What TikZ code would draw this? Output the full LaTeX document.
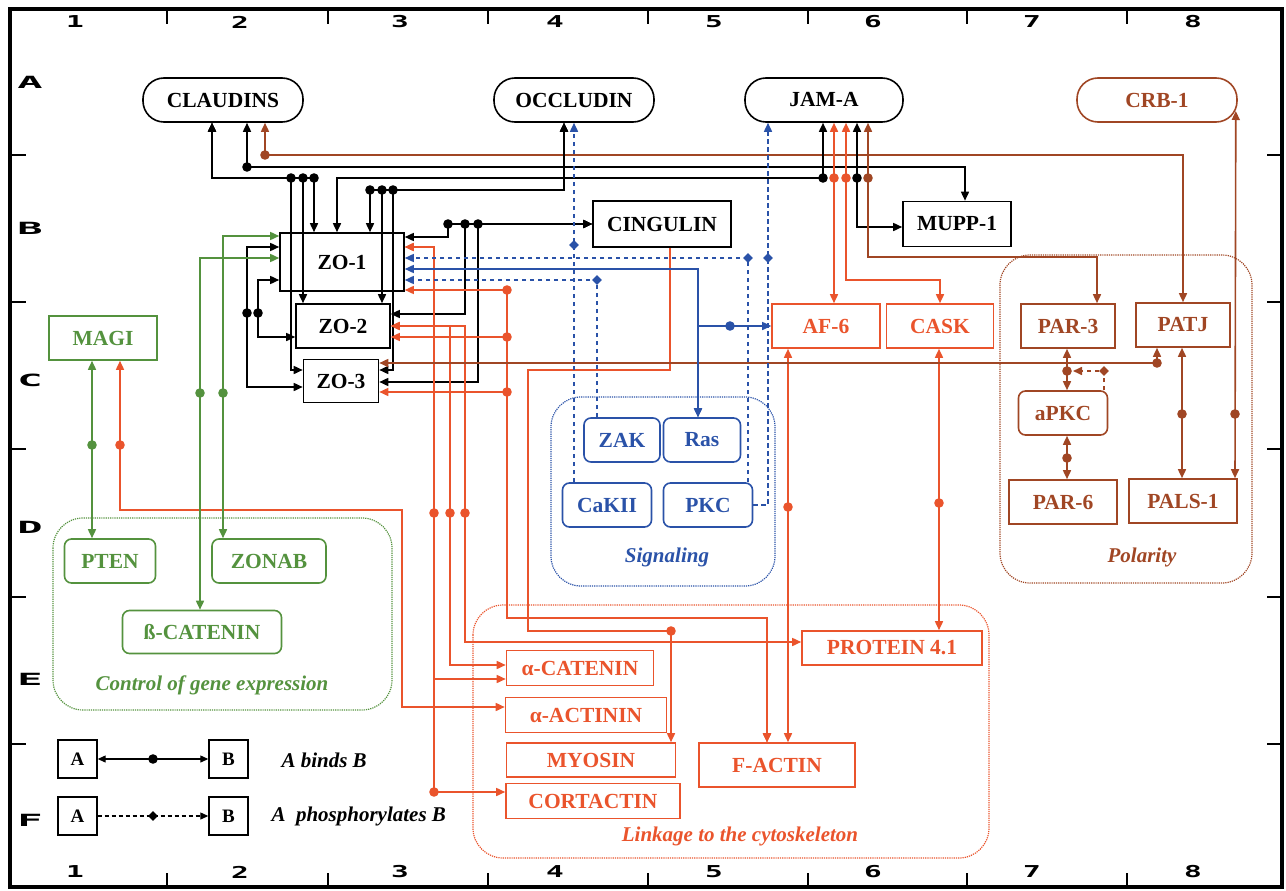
\documentclass[tikz,border=0pt]{standalone}
\usepackage{fontspec}
\usepackage{graphicx}
\setmainfont{Liberation Serif}
\newfontfamily\axisfont{DejaVu Sans Mono}
\usetikzlibrary{arrows.meta}
\definecolor{cred}{RGB}{234,84,44}
\definecolor{cbrown}{RGB}{160,70,36}
\definecolor{cgreen}{RGB}{84,146,62}
\definecolor{cblue}{RGB}{42,82,168}
\newcommand{\dotat}[2][black]{\fill[#1] (#2) circle (4.8pt);}
\newcommand{\diaat}[2][cblue]{\fill[#1] (#2) ++(0pt,4.8pt) -- ++(4.8pt,-4.8pt) -- ++(-4.8pt,-4.8pt) -- ++(-4.8pt,4.8pt) -- cycle;}
\tikzset{
  nbox/.style={draw, line width=1.6pt, inner sep=0pt, font=\fontsize{21.5}{22}\selectfont\bfseries},
  pill/.style={nbox, rounded corners=21pt},
  rbox/.style={nbox, rounded corners=7pt},
  sz/.style 2 args={minimum width=#1pt, minimum height=#2pt},
  grp/.style={line width=1.2pt, densely dotted, rounded corners=30pt},
  glabel/.style={font=\fontsize{21}{22}\selectfont\bfseries\itshape},
  con/.style={line width=1.6pt, {Triangle[length=9pt,width=8pt]}-{Triangle[length=9pt,width=8pt]}},
  con1/.style={line width=1.6pt, -{Triangle[length=9pt,width=8pt]}},
  phos/.style={line width=1.6pt, dash pattern=on 4.5pt off 3.5pt, -{Triangle[length=9pt,width=8pt]}},
  axis/.style={font=\axisfont\bfseries\fontsize{21}{21}\selectfont, inner sep=0pt},
}
\begin{document}
\begin{tikzpicture}[x=1pt,y=-1pt]
\useasboundingbox (0,0) rectangle (1286,891);
% frame
\draw[line width=3.5pt] (10,9) rectangle (1282,887);
\foreach \x in {167,328,488,648,808,967,1127} {
  \draw[line width=2.5pt] (\x,9) -- (\x,24);
  \draw[line width=2.5pt] (\x,873) -- (\x,887);
}
\foreach \y in {155,302,449,597,744} {
  \draw[line width=2.5pt] (10,\y) -- (26,\y);
  \draw[line width=2.5pt] (1267,\y) -- (1282,\y);
}
\foreach \n/\x in {1/75,2/240,3/400,4/555,5/714,6/873,7/1032,8/1193} {
  \node[axis] (top\n) at (\x,22) {\scalebox{1.4}[0.78]{\n}};
  \node[axis] (bot\n) at (\x,872) {\scalebox{1.4}[0.78]{\n}};
}
\foreach \l/\y in {A/82,B/228,C/380,D/527,E/679,F/820} {
  \node[axis] (row\l) at (30,\y) {\scalebox{2.0}[0.8]{\l}};
}
% groups
\draw[grp,cgreen] (53,518) rectangle (392,710);
\draw[grp,cblue] (551,397) rectangle (775,586);
\draw[grp,cbrown] (1000,255) rectangle (1252,583);
\draw[grp,cred] (473,605) rectangle (989,858);
\node[glabel,cgreen] (lgene) at (212,685) {Control of gene expression};
\node[glabel,cblue] (lsig) at (667,557) {Signaling};
\node[glabel,cbrown] (lpol) at (1142,557) {Polarity};
\node[glabel,cred] (llink) at (740,836) {Linkage to the cytoskeleton};
% nodes
\node[pill,sz={160}{44}] (cla) at (223,100) {CLAUDINS};
\node[pill,sz={160}{44}] (occ) at (574,100) {OCCLUDIN};
\node[pill,sz={158}{44}] (jam) at (824,100) {JAM-A};
\node[pill,sz={160}{44},cbrown] (crb) at (1157,100) {CRB-1};
\node[nbox,sz={138}{46}] (cing) at (662,224) {CINGULIN};
\node[nbox,sz={108}{45}] (mupp) at (957,224) {MUPP-1};
\node[nbox,sz={124}{58}] (zo1) at (342,262) {ZO-1};
\node[nbox,sz={94}{44}] (zo2) at (343,326) {ZO-2};
\node[nbox,sz={75}{43}] (zo3) at (341,381) {ZO-3};
\node[nbox,sz={108}{44},cgreen] (magi) at (103,338) {MAGI};
\node[rbox,sz={91}{44},cgreen] (pten) at (110,561) {PTEN};
\node[rbox,sz={114}{44},cgreen] (zonab) at (269,561) {ZONAB};
\node[rbox,sz={159}{43},cgreen] (bcat) at (202,632) {ß-CATENIN};
\node[rbox,sz={76}{44},cblue] (zak) at (622,440) {ZAK};
\node[rbox,sz={77}{44},cblue] (ras) at (702,440) {Ras};
\node[rbox,sz={89}{44},cblue] (cakii) at (607,505) {CaKII};
\node[rbox,sz={89}{44},cblue] (pkc) at (708,505) {PKC};
\node[nbox,sz={108}{44},cred] (af6) at (826,326) {AF-6};
\node[nbox,sz={107}{44},cred] (cask) at (940,326) {CASK};
\node[nbox,sz={94}{44},cbrown] (par3) at (1068,326) {PAR-3};
\node[nbox,sz={94}{44},cbrown] (patj) at (1183,325) {PATJ};
\node[rbox,sz={89}{44},cbrown] (apkc) at (1063,413) {aPKC};
\node[nbox,sz={108}{44},cbrown] (par6) at (1063,502) {PAR-6};
\node[nbox,sz={108}{44},cbrown] (pals) at (1183,501) {PALS-1};
\node[nbox,sz={180}{34},cred] (p41) at (892,648) {PROTEIN 4.1};
\node[nbox,sz={147}{35},cred] (acat) at (580,668) {α-CATENIN};
\node[nbox,sz={161}{35},cred] (aact) at (586,715) {α-ACTININ};
\node[nbox,sz={169}{34},cred] (myo) at (591,760) {MYOSIN};
\node[nbox,sz={174}{35},cred] (cort) at (593,801) {CORTACTIN};
\node[nbox,sz={156}{44},cred] (fact) at (777,765) {F-ACTIN};
% ---------- black bindings
\draw[con] (212,0 |- cla.south) -- (212,178) -- (291,178) -- (291,370) -- (zo3.west |- 0,370);
\draw[con] (212,0 |- cla.south) -- (212,178) -- (303,178) -- (303,0 |- zo2.north);
\draw[con] (212,0 |- cla.south) -- (212,178) -- (314,178) -- (314,0 |- zo1.north);
\draw[con] (247,0 |- cla.south) -- (247,167) -- (965,167) -- (965,0 |- mupp.north);
\draw[con,cbrown] (265,0 |- cla.south) -- (265,155) -- (1183,155) -- (1183,0 |- patj.north);
\draw[con] (823,0 |- jam.south) -- (823,178) -- (337,178) -- (337,0 |- zo1.north);
\draw[con,cred] (834,0 |- jam.south) -- (834,0 |- af6.north);
\draw[con,cred] (846,0 |- jam.south) -- (846,280) -- (940,280) -- (940,0 |- cask.north);
\draw[con] (857,0 |- jam.south) -- (857,227) -- (mupp.west |- 0,227);
\draw[con,cbrown] (868,0 |- jam.south) -- (868,257) -- (1097,257) -- (1097,0 |- par3.north);
\draw[con] (564,0 |- occ.south) -- (564,190) -- (370,190) -- (370,0 |- zo1.north);
\draw[con] (564,0 |- occ.south) -- (564,190) -- (382,190) -- (382,0 |- zo2.north);
\draw[con] (564,0 |- occ.south) -- (564,190) -- (393,190) -- (393,370) -- (zo3.east |- 0,370);
\draw[con] (cing.west) -- (448,224) -- (448,237) -- (zo1.east |- 0,237);
\draw[con] (cing.west) -- (465,224) -- (465,314) -- (zo2.east |- 0,314);
\draw[con] (cing.west) -- (478,224) -- (478,382) -- (zo3.east |- 0,382);
\draw[con] (zo1.west |- 0,247) -- (247,247) -- (247,387) -- (zo3.west |- 0,387);
\draw[con] (zo1.west |- 0,280) -- (258,280) -- (258,337) -- (zo2.west |- 0,337);
% ---------- red bindings
\draw[con,cred] (zo1.east |- 0,247) -- (434,247) -- (434,679) -- (acat.west |- 0,679);
\draw[con,cred] (zo1.east |- 0,247) -- (434,247) -- (434,792) -- (cort.west |- 0,792);
\draw[con,cred] (zo2.east |- 0,326) -- (450,326) -- (450,665) -- (acat.west |- 0,665);
\draw[con,cred] (zo2.east |- 0,326) -- (465,326) -- (465,642) -- (p41.west |- 0,642);
\draw[con,cred] (zo1.east |- 0,290) -- (507,290) -- (507,618) -- (767,618) -- (767,0 |- fact.north);
\draw[con,cred] (zo2.east |- 0,337) -- (507,337) -- (507,618) -- (767,618) -- (767,0 |- fact.north);
\draw[con,cred] (zo3.east |- 0,392) -- (507,392) -- (507,618) -- (767,618) -- (767,0 |- fact.north);
\draw[con1,cred] (670,0 |- cing.south) -- (670,370) -- (528,370) -- (528,631) -- (671,631) -- (671,0 |- myo.north);
\draw[con,cred] (788,0 |- af6.south) -- (788,0 |- fact.north);
\draw[con,cred] (939,0 |- cask.south) -- (939,0 |- p41.north);
\draw[con,cred] (120,0 |- magi.south) -- (120,510) -- (402,510) -- (402,707) -- (aact.west |- 0,707);
% ---------- brown bindings
\draw[con,cbrown] (zo3.east |- 0,363) -- (1157,363) -- (1157,0 |- patj.south);
\draw[con,cbrown] (1067,0 |- par3.south) -- (1067,0 |- apkc.north);
\draw[con,cbrown] (1067,0 |- apkc.south) -- (1067,0 |- par6.north);
\draw[con,cbrown] (1182,0 |- patj.south) -- (1182,0 |- pals.north);
\draw[con,cbrown] ([xshift=-2pt,yshift=-11pt]crb.east) -- (1235,0 |- pals.north);
\coordinate (par3hit) at (1073,371);
\draw[phos,cbrown] (1104,0 |- apkc.north) -- (1104,371) -- (par3hit);
% ---------- green bindings
\draw[con,cgreen] (92,0 |- magi.south) -- (92,0 |- pten.north);
\draw[con,cgreen] (zo1.west |- 0,236) -- (223,236) -- (223,0 |- zonab.north);
\draw[con,cgreen] (zo1.west |- 0,258) -- (200,258) -- (200,0 |- bcat.north);
% ---------- blue
\draw[con,cblue] (zo1.east |- 0,269) -- (698,269) -- (698,0 |- ras.north);
\draw[con,cblue] (698,0 |- ras.north) -- (698,326) -- (af6.west);
\draw[phos,cblue] (597,0 |- zak.north) -- (597,280) -- (zo1.east |- 0,280);
\draw[phos,cblue] (748,0 |- pkc.north) -- (748,258) -- (zo1.east |- 0,258);
\draw[phos,cblue] (pkc.east) -- (768,505) -- (768,0 |- jam.south);
\draw[phos,cblue] (574,0 |- cakii.north) -- (574,0 |- occ.south);
% ---------- dots
\foreach \p in {{291,178},{303,178},{314,178},{247,167},{823,178},{857,178},{370,190},{382,190},{393,190},{448,224},{465,224},{478,224},{247,313},{258,313}} {\dotat{\p}}
\foreach \p in {{265,155},{868,178},{1157,363},{1067,371},{1067,458},{1182,414},{1235,414}} {\dotat[cbrown]{\p}}
\foreach \p in {{834,178},{846,178},{434,513},{450,513},{465,513},{434,792},{507,290},{507,337},{507,392},{671,631},{788,507},{939,503},{120,445}} {\dotat[cred]{\p}}
\foreach \p in {{92,445},{223,393},{200,393}} {\dotat[cgreen]{\p}}
\dotat[cblue]{730,326}
\foreach \p in {{574,245},{597,280},{748,258},{768,258}} {\diaat{\p}}
\diaat[cbrown]{1104,371}
% ---------- legend
\node[nbox,sz={39}{38},line width=1.4pt,font=\fontsize{19}{20}\selectfont\bfseries] (la1) at (77.5,759) {A};
\node[nbox,sz={39}{38},line width=1.4pt,font=\fontsize{19}{20}\selectfont\bfseries] (lb1) at (228.5,759) {B};
\node[nbox,sz={39}{38},line width=1.4pt,font=\fontsize{19}{20}\selectfont\bfseries] (la2) at (77.5,816) {A};
\node[nbox,sz={39}{38},line width=1.4pt,font=\fontsize{19}{20}\selectfont\bfseries] (lb2) at (228.5,816) {B};
\draw[line width=1.2pt,{Triangle[length=8pt,width=7pt]}-{Triangle[length=8pt,width=7pt]}] (la1) -- (lb1);
\dotat{153,759}
\draw[line width=1.2pt,dash pattern=on 4pt off 3pt,-{Triangle[length=8pt,width=7pt]}] (la2) -- (lb2);
\diaat[black]{153,816}
\node[glabel,anchor=west] (lt1) at (278,760) {A binds B};
\node[glabel,anchor=west] (lt2) at (268,816) {A\ \ phosphorylates B};
\end{tikzpicture}
\end{document}
